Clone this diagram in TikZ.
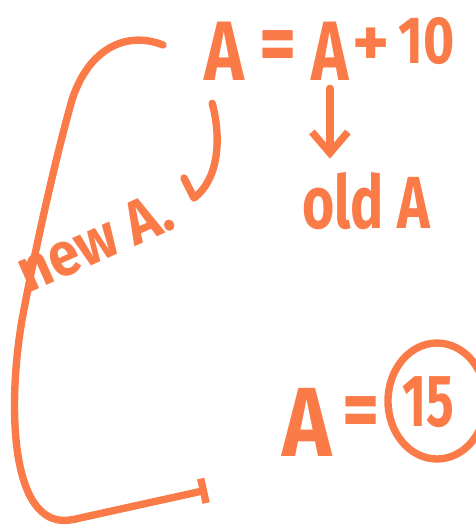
\documentclass[tikz,border=0pt]{standalone}
\usepackage{fontspec}
\setmainfont{Fira Sans}
\usetikzlibrary{arrows.meta, positioning}
\definecolor{marker}{HTML}{FA7A48}

\tikzset{
  ink/.style={text=marker, inner sep=0pt, font=\bfseries\fontsize{#1}{#1}\selectfont},
  ink/.default=48,
  stroke/.style={draw=marker, line width=4.2pt, line cap=round, line join=round}
}

\begin{document}
\begin{tikzpicture}[x=0.02cm, y=-0.02cm]

% page frame
\useasboundingbox (0,0) rectangle (476,531);
\clip (0,0) rectangle (476,531);

% top line: A = A + 10
\node[ink, anchor=base west, xscale=0.8] (lhsA) at (204,80) {A};
\node[ink, xscale=0.85] (eqtop) at (278,52) {=};
\node[ink, anchor=base west, xscale=0.75] (rhsA) at (311,80) {A};
\node[ink=40] (plus) at (371,47) {+};
\node[ink=38, anchor=base west, xscale=0.8] (ten) at (398,63) {10};

% labels
\node[ink=42, anchor=base west, xscale=0.75] (oldA) at (302,228) {old A};
\node[ink=35, anchor=base west, rotate=24, xscale=0.9] (newA) at (28,294) {new A.};

% bottom line: A = 15
\node[ink=56, anchor=base west, xscale=0.85] (botA) at (282,456) {A};
\node[ink, xscale=0.85] (boteq) at (361,418) {=};
\node[ink=42, xscale=0.7] (fifteen) at (428,402) {15};
\draw[stroke] (fifteen.center) ++(9,-1) ellipse [x radius=49, y radius=58];

% arrows
\coordinate (oldtop) at (rhsA.south |- oldA.north);
\draw[stroke, -{Straight Barb[length=0.42cm, width=0.72cm]}]
  ([yshift=-0.16cm]rhsA.south) -- ([yshift=0.26cm]oldtop);

\coordinate (hookend) at (194,198);
\draw[stroke] ([shift={(-0.24cm,-0.46cm)}]lhsA.south)
  .. controls (222,140) and (218,180) .. (hookend) -- ++(-10,-20);

% big bracket
\coordinate (brtop) at (163,45);
\coordinate (brend) at (207,490);
\draw[stroke, -{Bar[width=0.5cm]}] (brtop)
  .. controls (125,30) and (88,50) .. (72,100)
  .. controls (55,160) and (35,250) .. (22,320)
  .. controls (10,390) and (10,480) .. (40,510)
  .. controls (52,522) and (65,522) .. (80,518) -- (brend);

\end{tikzpicture}
\end{document}
